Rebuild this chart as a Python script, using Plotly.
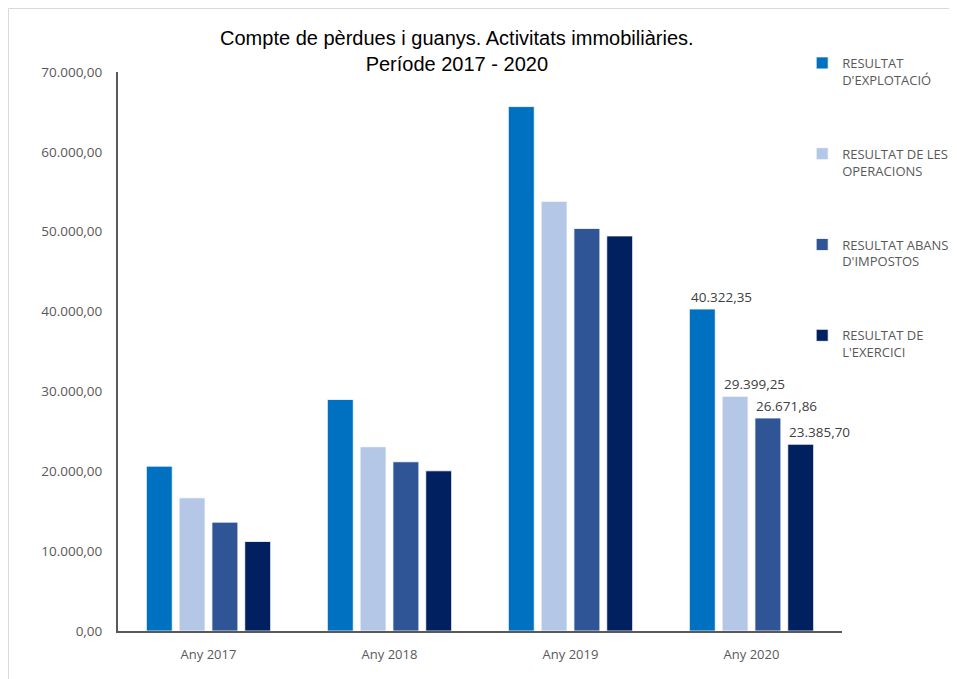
import plotly.graph_objects as go

# Compte de pèrdues i guanys - activitats immobiliàries
years = ["Any 2017", "Any 2018", "Any 2019", "Any 2020"]
series_names = [
    "RESULTAT<br>D'EXPLOTACIÓ",
    "RESULTAT DE LES<br>OPERACIONS",
    "RESULTAT ABANS<br>D'IMPOSTOS",
    "RESULTAT DE<br>L'EXERCICI",
]
explotacio = [20640, 28990, 65670, 40322.35]
operacions = [16680, 23070, 53800, 29399.25]
abans_impostos = [13630, 21190, 50410, 26671.86]
exercici = [11210, 20060, 49470, 23385.70]
labelled_year = "Any 2020"  # only this year carries data labels

colors = ["#0070C0", "#B4C7E7", "#2F5597", "#002060"]
all_values = [explotacio, operacions, abans_impostos, exercici]


def fmt_ca(v):
    # 40322.35 -> 40.322,35
    return f"{v:,.2f}".replace(",", "X").replace(".", ",").replace("X", ".")


fig = go.Figure()
for i, (name, vals) in enumerate(zip(series_names, all_values)):
    fig.add_trace(go.Bar(
        x=years, y=vals, name=name,
        marker=dict(color=colors[i], line=dict(color="white", width=0.8)),
        legendgroup=str(i),
    ))

# data labels, nudged right of each bar like in the original
bar_pitch = 32.8
k = years.index(labelled_year)
for i, vals in enumerate(all_values):
    fig.add_annotation(
        x=labelled_year, y=vals[k], text=fmt_ca(vals[k]),
        showarrow=False, yanchor="bottom", xanchor="center",
        xshift=(i - 1.5) * bar_pitch + 19, yshift=1,
        font=dict(family="Open Sans", size=13.5, color="#404040"),
    )

fig.update_layout(
    width=957, height=679,
    separators=",.",
    barmode="group", bargap=0.275, bargroupgap=0.21,
    plot_bgcolor="white", paper_bgcolor="white",
    margin=dict(l=110, r=123, t=64, b=56, autoexpand=False),
    font=dict(family="Open Sans", size=13, color="#595959"),
    title=dict(
        text="Compte de pèrdues i guanys. Activitats immobiliàries.<br>Període 2017 - 2020",
        x=0.469, xref="container", xanchor="center",
        y=0.945, yref="container", yanchor="top",
        font=dict(family="Liberation Sans", size=20, color="#000000"),
    ),
    legend=dict(
        x=0.945, xanchor="left", y=1.043, yanchor="top",
        valign="top", tracegroupgap=54,
        font=dict(family="Open Sans", size=13, color="#595959"),
        bgcolor="rgba(0,0,0,0)",
    ),
    showlegend=True,
)
fig.update_yaxes(
    range=[0, 70000], dtick=10000, tickformat=",.2f",
    showgrid=False, zeroline=False,
    showline=True, linecolor="#595959", linewidth=2,
    ticks="", ticklabelstandoff=11,
    tickfont=dict(size=13.5),
)
fig.update_xaxes(
    range=[-0.5, 3.5],
    showline=True, linecolor="#595959", linewidth=2,
    ticks="", ticklabelstandoff=10,
    tickfont=dict(size=13),
)

# light outer border of the original chart image
fig.add_shape(type="rect", xref="paper", yref="paper",
              x0=-0.1512, x1=1.3, y0=-0.2, y1=1.1136,
              line=dict(color="#D9D9D9", width=1), layer="below")

fig.write_html("out.html")
